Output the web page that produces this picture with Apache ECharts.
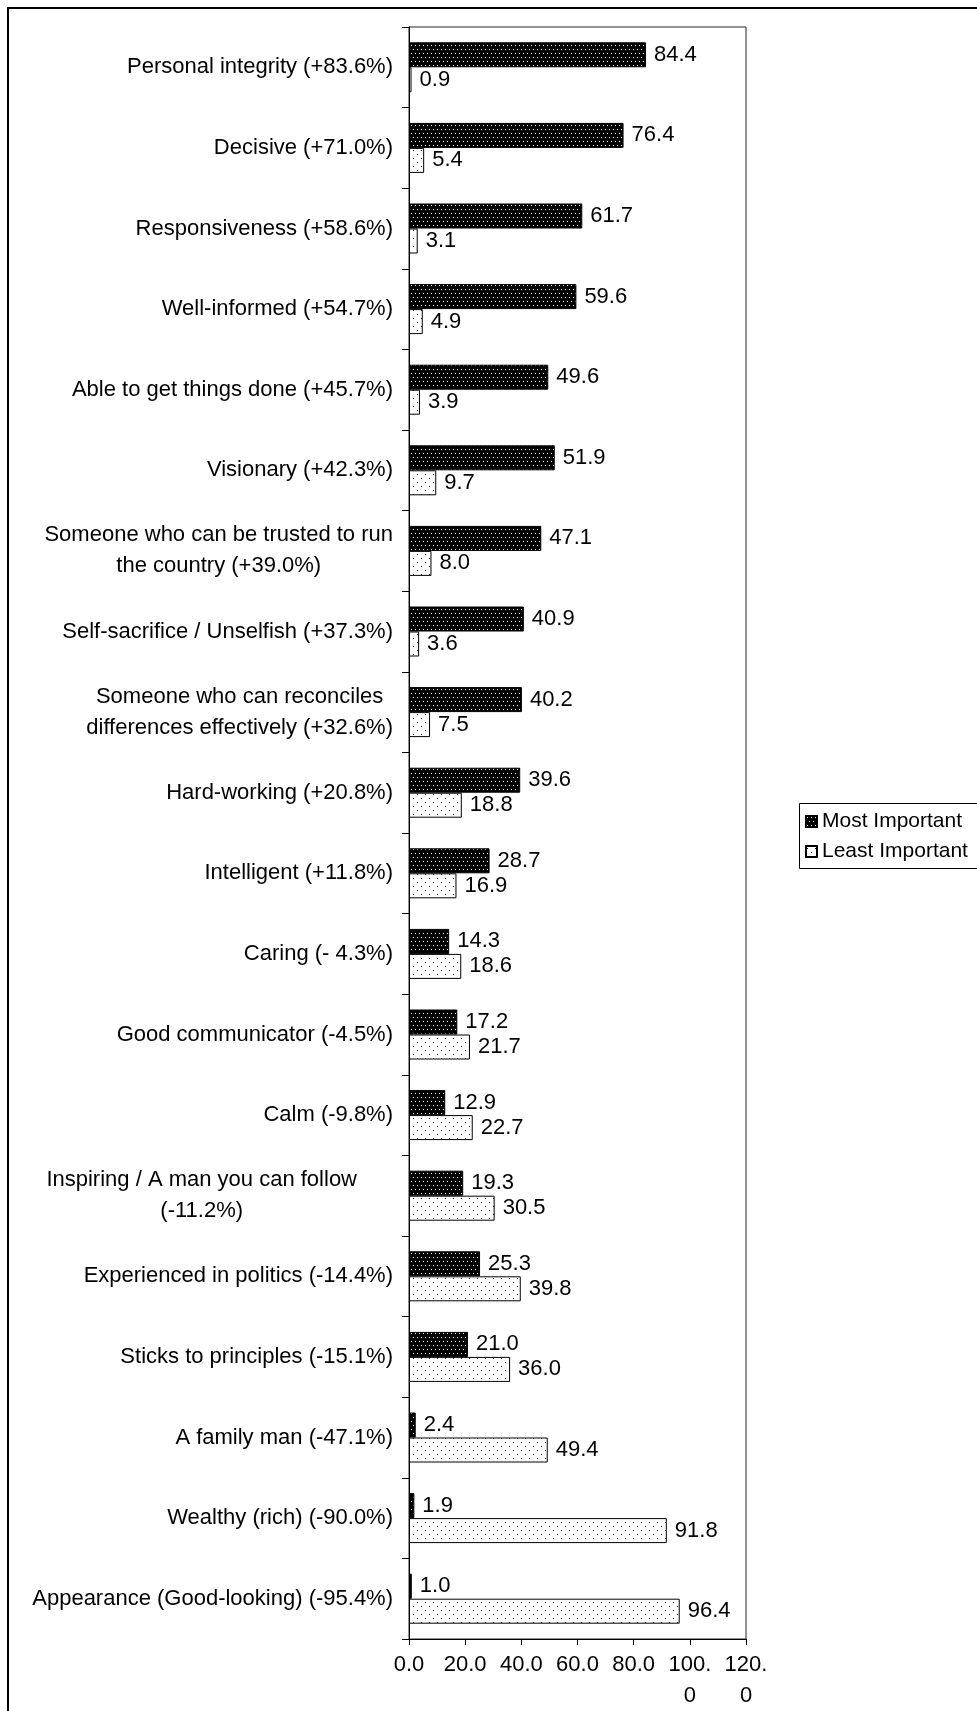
<!DOCTYPE html>
<html>
<head>
<meta charset="utf-8">
<script src="https://cdn.jsdelivr.net/npm/echarts@6/dist/echarts.min.js"></script>
<style>
  html, body { margin: 0; padding: 0; background: #fff; }
  #chart { width: 977px; height: 1711px; }
</style>
</head>
<body>
<div id="chart"></div>
<script>
const categories = [
  'Personal integrity (+83.6%)',
  'Decisive (+71.0%)',
  'Responsiveness (+58.6%)',
  'Well-informed (+54.7%)',
  'Able to get things done (+45.7%)',
  'Visionary (+42.3%)',
  'Someone who can be trusted to run\nthe country (+39.0%)',
  'Self-sacrifice / Unselfish (+37.3%)',
  'Someone who can reconciles\ndifferences effectively (+32.6%)',
  'Hard-working (+20.8%)',
  'Intelligent (+11.8%)',
  'Caring (- 4.3%)',
  'Good communicator (-4.5%)',
  'Calm (-9.8%)',
  'Inspiring / A man you can follow\n(-11.2%)',
  'Experienced in politics (-14.4%)',
  'Sticks to principles (-15.1%)',
  'A family man (-47.1%)',
  'Wealthy (rich) (-90.0%)',
  'Appearance (Good-looking) (-95.4%)'
];
const mostImportant = [84.4, 76.4, 61.7, 59.6, 49.6, 51.9, 47.1, 40.9, 40.2, 39.6, 28.7, 14.3, 17.2, 12.9, 19.3, 25.3, 21.0, 2.4, 1.9, 1.0];
const leastImportant = [0.9, 5.4, 3.1, 4.9, 3.9, 9.7, 8.0, 3.6, 7.5, 18.8, 16.9, 18.6, 21.7, 22.7, 30.5, 39.8, 36.0, 49.4, 91.8, 96.4];
const seriesNames = ['Most Important', 'Least Important'];
const axisMin = 0, axisMax = 120, axisStep = 20;

const FONT = '"Liberation Sans", Arial, sans-serif';
const FS = 22;

function makePattern(bg, fg, w, h, dots) {
  const c = document.createElement('canvas');
  c.width = w; c.height = h;
  const ctx = c.getContext('2d');
  ctx.fillStyle = bg; ctx.fillRect(0, 0, w, h);
  ctx.fillStyle = fg;
  dots.forEach(d => ctx.fillRect(d[0], d[1], 1, 1));
  return c;
}
const darkPattern = makePattern('#000', '#fff', 8, 8, [[1,1],[5,1],[3,5],[7,5]]);
const lightPattern = makePattern('#fff', '#000', 8, 8, [[1,2],[5,6]]);

const chart = echarts.init(document.getElementById('chart'), null, { renderer: 'canvas' });

function valueLabel() {
  return {
    show: true, position: 'right', distance: 8,
    fontSize: FS, fontFamily: FONT, color: '#000',
    formatter: p => Number(p.value).toFixed(1)
  };
}

chart.setOption({
  backgroundColor: '#fff',
  animation: false,
  textStyle: { fontFamily: FONT },
  graphic: [
    {
      type: 'rect', z: 100, silent: true,
      shape: { x: 8, y: 8, width: 1400, height: 2200 },
      style: { fill: 'none', stroke: '#000', lineWidth: 2 }
    },
    {
      type: 'rect', z: 100, silent: true,
      shape: { x: 799.5, y: 803.5, width: 400, height: 65 },
      style: { fill: 'none', stroke: '#000', lineWidth: 1 }
    }
  ],
  legend: {
    orient: 'vertical',
    left: 799, top: 803,
    padding: [8, 10, 8, 6],
    itemGap: 9,
    itemWidth: 11, itemHeight: 11,
    itemTextGap: 9,
    borderWidth: 0,
    icon: 'rect',
    textStyle: { fontSize: 21, fontFamily: FONT, color: '#000' },
    data: seriesNames
  },
  grid: {
    left: 409, top: 27, width: 337, height: 1618,
    show: true, borderColor: '#222', borderWidth: 1, backgroundColor: 'transparent'
  },
  xAxis: {
    type: 'value', min: axisMin, max: axisMax, interval: axisStep,
    axisLine: { show: true, lineStyle: { color: '#000', width: 1 } },
    axisTick: { show: true, length: 6, lineStyle: { color: '#000' } },
    splitLine: { show: false },
    axisLabel: {
      fontSize: FS, fontFamily: FONT, color: '#000', margin: 10, lineHeight: 31,
      formatter: v => {
        const s = Number(v).toFixed(1);
        return s.length > 4 ? s.slice(0, 4) + '\n' + s.slice(4) : s;
      }
    }
  },
  yAxis: {
    type: 'category', inverse: true, data: categories,
    axisLine: { show: true, lineStyle: { color: '#000', width: 1 } },
    axisTick: { show: true, length: 7, lineStyle: { color: '#000' } },
    splitLine: { show: false },
    axisLabel: {
      fontSize: FS, fontFamily: FONT, color: '#000', margin: 16, lineHeight: 31,
      interval: 0,
      formatter: (v, i) => {
        if (v.indexOf('\n') < 0) return v;
        const key = v.indexOf('Inspiring') === 0 ? 'ci' : 'c';
        return v.split('\n').map(l => '{' + key + '|' + l + '}').join('\n');
      },
      rich: {
        c: { align: 'center', fontSize: FS, fontFamily: FONT, color: '#000', lineHeight: 31 },
        ci: { align: 'center', fontSize: FS, fontFamily: FONT, color: '#000', lineHeight: 31, padding: [0, 36, 0, 0] }
      }
    }
  },
  series: [
    {
      name: seriesNames[0], type: 'bar', data: mostImportant,
      barWidth: 25, barGap: '0%',
      itemStyle: { color: { image: darkPattern, repeat: 'repeat' }, borderColor: '#000', borderWidth: 1 },
      label: valueLabel()
    },
    {
      name: seriesNames[1], type: 'bar', data: leastImportant,
      barWidth: 25, barGap: '0%',
      itemStyle: { color: { image: lightPattern, repeat: 'repeat' }, borderColor: '#000', borderWidth: 1 },
      label: valueLabel()
    }
  ]
});
</script>
</body>
</html>
